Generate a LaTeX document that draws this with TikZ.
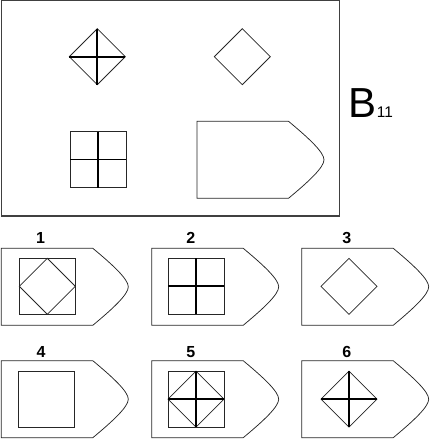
\documentclass[tikz,border=0pt]{standalone}
\usepackage{fontspec}
\setmainfont{Liberation Sans}
\begin{document}
\begin{tikzpicture}[x=1pt,y=-1pt,
  thinline/.style={line width=0.75pt,draw=black!85},
  thickline/.style={line width=1.7pt,draw=black},
  frameline/.style={line width=1.2pt,draw=black!75},
  lbl/.style={font=\bfseries\fontsize{16}{16}\selectfont,inner sep=0pt},
  boat/.pic={\draw[thinline] (0,0) -- (91.5,0) .. controls (112,17) and (127,31) .. (127,38.5) .. controls (127,46) and (112,60) .. (91.5,77) -- (0,77) -- cycle;},
  sq/.pic={\draw[thinline] (-28,-28) rectangle (28,28);},
  dia/.pic={\draw[thinline] (-28,0) -- (0,-28) -- (28,0) -- (0,28) -- cycle;},
  crs/.pic={\draw[thickline] (-28,0) -- (28,0) (0,-28) -- (0,28);}
]
\useasboundingbox (0,0) rectangle (429,439);
% top frame
\draw[frameline] (1.2,0.8) rectangle (339.3,216);
\pic at (97.3,56.7) {dia};
\pic at (97.3,56.7) {crs};
\pic at (242.3,56.7) {dia};
\pic at (98,159.5) {sq};
\pic at (98,159.5) {crs};
\pic at (197,121.3) {boat};
\node[inner sep=0pt,anchor=base west] (title) at (348.7,117) {\fontsize{42}{42}\selectfont B\fontsize{15.4}{15.4}\selectfont 11};
% options row 1
\pic at (1.3,248.3) {boat};
\pic at (47.3,286.3) {sq};
\pic at (47.3,286.3) {dia};
\node[lbl] (l1) at (40.5,238) {1};
\pic at (151.7,248.3) {boat};
\pic at (196,286.3) {sq};
\pic at (196,286.3) {crs};
\node[lbl] (l2) at (190.7,238) {2};
\pic at (301.7,248.3) {boat};
\pic at (349,286.3) {dia};
\node[lbl] (l3) at (346.8,238) {3};
% options row 2
\pic at (1.3,360.7) {boat};
\pic at (46.7,399.5) {sq};
\node[lbl] (l4) at (41,351.7) {4};
\pic at (151.7,360.7) {boat};
\pic at (196,399.2) {sq};
\pic at (196,399.2) {dia};
\pic at (196,399.2) {crs};
\node[lbl] (l5) at (190.7,351.7) {5};
\pic at (301.7,360.7) {boat};
\pic at (349,399.2) {dia};
\pic at (349,399.2) {crs};
\node[lbl] (l6) at (346.8,351.7) {6};
\end{tikzpicture}
\end{document}
